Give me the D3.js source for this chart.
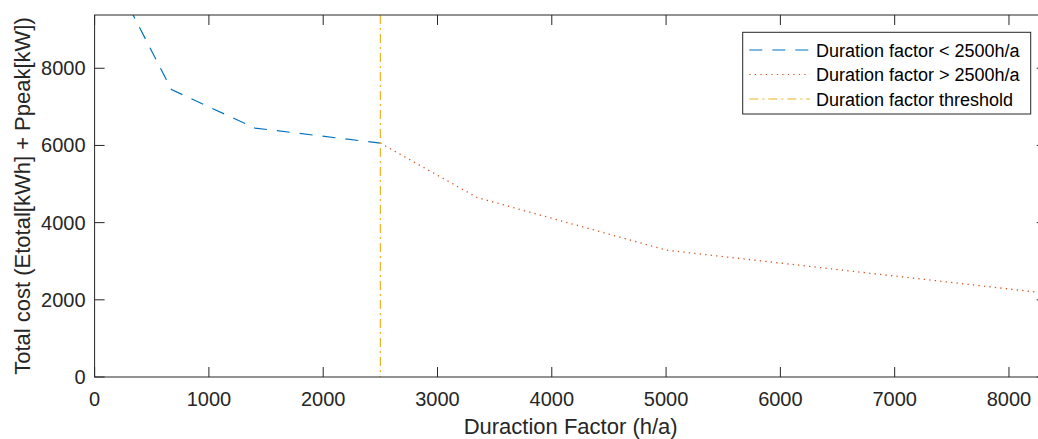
<!DOCTYPE html>
<html>
<head>
<meta charset="utf-8">
<script src="https://cdn.jsdelivr.net/npm/d3@7"></script>
<style>
  body { margin: 0; background: #fff; }
  svg { display: block; font-family: "Liberation Sans", Arial, Helvetica, sans-serif; }
  .tick-label { fill: #262626; font-size: 20px; }
  .axis-title { fill: #262626; font-size: 22px; }
  .legend text { fill: #000; font-size: 18px; }
</style>
</head>
<body>
<svg id="chart" width="1038" height="439"></svg>
<script>
// duration factor below threshold (blue dashed)
const lowX = [300, 673, 1403, 2500];
const lowY = [9590, 7446, 6450, 6060];
// duration factor above threshold (red dotted)
const highX = [2500, 3347, 5005, 8330];
const highY = [6060, 4650, 3286, 2170];
const thresholdX = 2500;

const xTicks = [0, 1000, 2000, 3000, 4000, 5000, 6000, 7000, 8000];
const yTicks = [0, 2000, 4000, 6000, 8000];
const legendLabels = ["Duration factor < 2500h/a", "Duration factor > 2500h/a", "Duration factor threshold"];

const Chart = () => {
  const svg = d3.select("#chart");
  const left = 94.6, right = 1046.7, top = 15, bottom = 377;
  const axisColor = "#262626";
  const tickLen = 10;

  const x = d3.scaleLinear().domain([0, 8330]).range([left, right]);
  const y = d3.scaleLinear().domain([0, 9380]).range([bottom, top]);

  const styles = [
    { color: "#0072BD", dash: "13,10" },
    { color: "#D95319", dash: "1.3,4.2" },
    { color: "#EDB120", dash: "9,4,2,4" }
  ];

  svg.append("defs").append("clipPath").attr("id", "plot-clip")
    .append("rect")
      .attr("x", left).attr("y", top)
      .attr("width", right - left).attr("height", bottom - top);

  const plot = svg.append("g").attr("clip-path", "url(#plot-clip)");
  const line = d3.line().x(d => x(d[0])).y(d => y(d[1]));

  plot.append("path")
    .datum(lowX.map((v, i) => [v, lowY[i]]))
    .attr("d", line)
    .attr("fill", "none")
    .attr("stroke", styles[0].color)
    .attr("stroke-width", 1.2)
    .attr("stroke-dasharray", styles[0].dash);

  plot.append("path")
    .datum(highX.map((v, i) => [v, highY[i]]))
    .attr("d", line)
    .attr("fill", "none")
    .attr("stroke", styles[1].color)
    .attr("stroke-width", 1.3)
    .attr("stroke-dasharray", styles[1].dash);

  plot.append("line")
    .attr("x1", x(thresholdX)).attr("x2", x(thresholdX))
    .attr("y1", top).attr("y2", bottom)
    .attr("stroke", styles[2].color)
    .attr("stroke-width", 1.2)
    .attr("stroke-dasharray", styles[2].dash);

  // box + inward ticks on all four sides
  const frame = svg.append("g").attr("stroke", axisColor).attr("stroke-width", 1);
  frame.append("rect")
    .attr("x", left).attr("y", top)
    .attr("width", right - left).attr("height", bottom - top)
    .attr("fill", "none");

  xTicks.forEach(t => {
    frame.append("line").attr("x1", x(t)).attr("x2", x(t)).attr("y1", bottom).attr("y2", bottom - tickLen);
    frame.append("line").attr("x1", x(t)).attr("x2", x(t)).attr("y1", top).attr("y2", top + tickLen);
  });
  yTicks.forEach(t => {
    frame.append("line").attr("x1", left).attr("x2", left + tickLen).attr("y1", y(t)).attr("y2", y(t));
    frame.append("line").attr("x1", right).attr("x2", right - tickLen).attr("y1", y(t)).attr("y2", y(t));
  });

  svg.selectAll("text.xt")
    .data(xTicks)
    .enter()
    .append("text")
      .attr("class", "tick-label xt")
      .attr("x", d => x(d))
      .attr("y", 406)
      .attr("text-anchor", "middle")
      .text(d => d);

  svg.selectAll("text.yt")
    .data(yTicks)
    .enter()
    .append("text")
      .attr("class", "tick-label yt")
      .attr("x", left - 9)
      .attr("y", d => y(d) + 7)
      .attr("text-anchor", "end")
      .text(d => d);

  svg.append("text")
    .attr("class", "axis-title")
    .attr("x", (left + right) / 2)
    .attr("y", 434)
    .attr("text-anchor", "middle")
    .text("Duraction Factor (h/a)");

  svg.append("text")
    .attr("class", "axis-title")
    .attr("transform", `translate(30,${(top + bottom) / 2}) rotate(-90)`)
    .attr("text-anchor", "middle")
    .text("Total cost (Etotal[kWh] + Ppeak[kW])");

  // legend
  const lg = svg.append("g").attr("class", "legend");
  lg.append("rect")
    .attr("x", 742.7).attr("y", 32.3)
    .attr("width", 288).attr("height", 81.7)
    .attr("fill", "#fff")
    .attr("stroke", axisColor)
    .attr("stroke-width", 1);

  legendLabels.forEach((label, i) => {
    const cy = 50 + i * 24.5;
    lg.append("line")
      .attr("x1", 749.3).attr("x2", 810)
      .attr("y1", cy).attr("y2", cy)
      .attr("stroke", styles[i].color)
      .attr("stroke-width", 1.2)
      .attr("stroke-dasharray", styles[i].dash);
    lg.append("text")
      .attr("x", 816)
      .attr("y", cy + 6.5)
      .text(label);
  });
};

Chart();
</script>
</body>
</html>
